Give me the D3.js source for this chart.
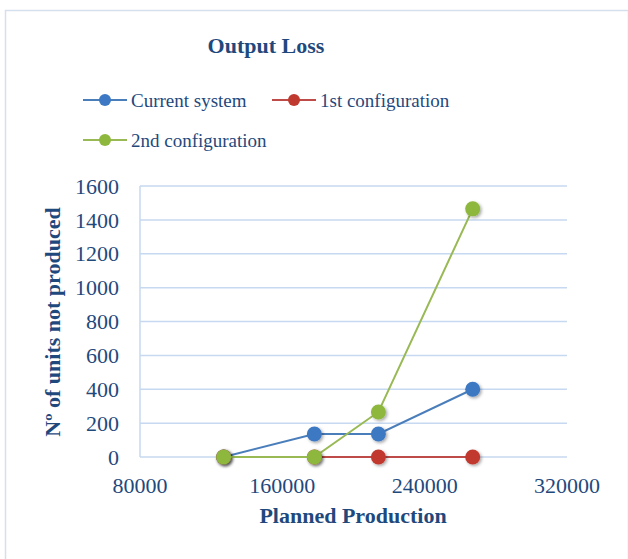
<!DOCTYPE html>
<html>
<head>
<meta charset="utf-8">
<script src="https://cdn.jsdelivr.net/npm/d3@7"></script>
<style>
  body { margin: 0; background: #fff; }
  text { font-family: "Liberation Serif", "DejaVu Serif", serif; fill: #1F497D; }
</style>
</head>
<body>
<div id="chart"></div>
<script>
// planned production (x) values
var production = [127000, 178000, 214000, 267000];
// units not produced per series
var currentSystem = [0, 136, 136, 400];
var firstConfig = [0, 0, 0, 0];
var secondConfig = [0, 0, 266, 1465];
var seriesNames = ["Current system", "1st configuration", "2nd configuration"];
var seriesColors = ["#4A7EBB", "#BE4B48", "#98B954"];
var markerColors = ["#3C78C3", "#C0392F", "#8DB83D"];
var xTicks = [80000, 160000, 240000, 320000];
var yTicks = [0, 200, 400, 600, 800, 1000, 1200, 1400, 1600];

var width = 628, height = 559;
var margin = { top: 186, right: 61, bottom: 102, left: 140 };

var svg = d3.select("#chart").append("svg")
    .attr("width", width)
    .attr("height", height);

var defs = svg.append("defs");
var shadow = defs.append("filter").attr("id", "shadow")
    .attr("x", "-50%").attr("y", "-50%").attr("width", "200%").attr("height", "200%");
shadow.append("feDropShadow")
    .attr("dx", 1.5).attr("dy", 1.5).attr("stdDeviation", 1.5)
    .attr("flood-color", "#000").attr("flood-opacity", 0.35);

// chart border
svg.append("rect")
    .attr("x", 5.5).attr("y", 10.5)
    .attr("width", width - 5).attr("height", height - 9)
    .attr("fill", "none")
    .attr("stroke", "#D5E0EE")
    .attr("stroke-width", 1.5);

var x = d3.scaleLinear().domain([80000, 320000]).range([margin.left, width - margin.right]);
var y = d3.scaleLinear().domain([0, 1600]).range([height - margin.bottom, margin.top]);

// gridlines
svg.append("g")
    .selectAll("line")
    .data(yTicks)
    .enter()
    .append("line")
    .attr("x1", margin.left)
    .attr("x2", width - margin.right)
    .attr("y1", d => y(d))
    .attr("y2", d => y(d))
    .attr("stroke", "#C6D9F1")
    .attr("stroke-width", 1.5);

// y axis line
svg.append("line")
    .attr("x1", margin.left).attr("x2", margin.left)
    .attr("y1", y(0)).attr("y2", y(1600))
    .attr("stroke", "#C6D9F1")
    .attr("stroke-width", 1.5);

// y tick labels
svg.append("g")
    .selectAll("text")
    .data(yTicks)
    .enter()
    .append("text")
    .attr("x", margin.left - 21)
    .attr("y", d => y(d))
    .attr("dy", "0.35em")
    .attr("text-anchor", "end")
    .style("font-size", "22px")
    .text(d => d);

// x tick labels
svg.append("g")
    .selectAll("text")
    .data(xTicks)
    .enter()
    .append("text")
    .attr("x", d => x(d))
    .attr("y", y(0) + 28)
    .attr("dy", "0.35em")
    .attr("text-anchor", "middle")
    .style("font-size", "22px")
    .text(d => d);

// titles
svg.append("text")
    .attr("x", 266).attr("y", 53)
    .attr("text-anchor", "middle")
    .style("font-size", "22px")
    .style("font-weight", "bold")
    .text("Output Loss");

svg.append("text")
    .attr("x", 353).attr("y", 523)
    .attr("text-anchor", "middle")
    .style("font-size", "22px")
    .style("font-weight", "bold")
    .text("Planned Production");

svg.append("text")
    .attr("transform", "translate(60, 322) rotate(-90)")
    .attr("text-anchor", "middle")
    .style("font-size", "22px")
    .style("font-weight", "bold")
    .text("Nº of units not produced");

var seriesData = [currentSystem, firstConfig, secondConfig];
var line = d3.line()
    .x((d, i) => x(production[i]))
    .y(d => y(d));

// draw in order: current, 1st, 2nd (2nd on top)
seriesData.forEach(function (values, s) {
    var g = svg.append("g");
    g.append("path")
        .datum(values)
        .attr("fill", "none")
        .attr("stroke", seriesColors[s])
        .attr("stroke-width", 2)
        .attr("d", line);
    g.selectAll("circle")
        .data(values)
        .enter()
        .append("circle")
        .attr("cx", (d, i) => x(production[i]))
        .attr("cy", d => y(d))
        .attr("r", 7.5)
        .attr("fill", markerColors[s])
        .attr("filter", "url(#shadow)");
});

// legend
var legendItems = [
    { x: 83, y: 100 },
    { x: 272, y: 100 },
    { x: 83, y: 140 }
];
legendItems.forEach(function (p, s) {
    var g = svg.append("g").attr("transform", `translate(${p.x}, ${p.y})`);
    g.append("line")
        .attr("x1", 0).attr("x2", 44)
        .attr("y1", 0).attr("y2", 0)
        .attr("stroke", seriesColors[s])
        .attr("stroke-width", 2);
    g.append("circle")
        .attr("cx", 22).attr("cy", 0).attr("r", 6)
        .attr("fill", markerColors[s]);
    g.append("text")
        .attr("x", 48).attr("y", 0)
        .attr("dy", "0.35em")
        .style("font-size", "19px")
        .text(seriesNames[s]);
});
</script>
</body>
</html>
